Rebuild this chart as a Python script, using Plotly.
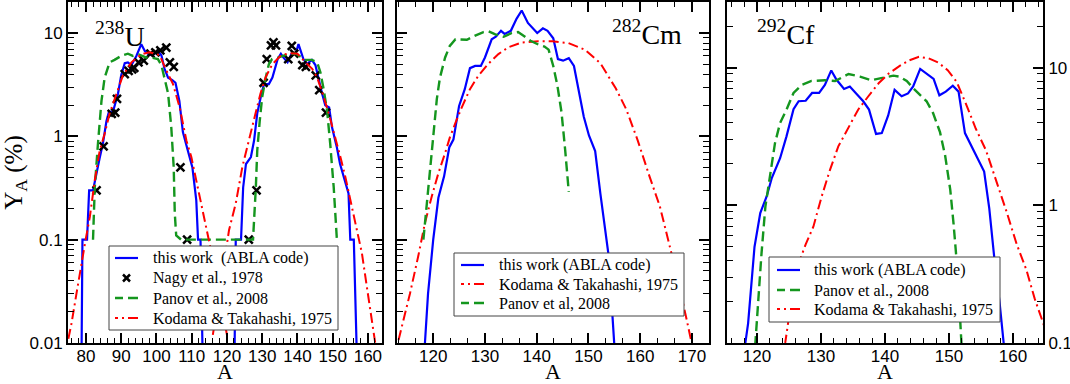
import plotly.graph_objects as go

# ---- 238U panel ----
u_abla_a = [78.7, 79.0, 80.3, 80.9, 82.0, 83.0, 83.9, 84.8, 85.8, 86.5, 87.7, 89.1, 90.0, 91.0, 91.9,
            92.9, 94.3, 95.7, 96.7, 98.0, 99.2, 100.4, 101.4, 102.3, 103.3, 104.5, 105.4, 106.5, 107.5,
            108.8, 110.2, 111.3, 111.8, 112.5, 113.2,
            122.1, 122.5, 124.0, 124.6, 125.4, 126.8, 127.7, 128.6, 129.6, 130.5, 131.9, 132.9, 134.4,
            135.3, 136.0, 137.2, 138.5, 139.5, 140.3, 141.7, 142.7, 144.1, 145.1, 146.0, 147.0, 147.9,
            149.0, 149.8, 151.2, 152.1, 153.6, 154.5, 155.0, 156.0, 157.0]
u_abla_y = [0.005, 0.1, 0.1, 0.3, 0.3, 0.45, 0.62, 0.85, 1.4, 1.72, 1.75, 2.6, 3.9, 5.1, 5.2,
            4.9, 6.0, 7.8, 6.7, 6.1, 6.2, 6.7, 6.1, 4.5, 3.7, 3.5, 3.3, 2.2, 1.1,
            0.75, 0.5, 0.24, 0.1, 0.1, 0.005,
            0.005, 0.1, 0.1, 0.32, 0.54, 0.63, 0.91, 1.67, 2.4, 3.2, 3.2, 3.7, 5.6,
            6.3, 5.8, 5.2, 6.5, 6.3, 7.8, 5.6, 5.0, 5.5, 4.9, 3.5, 2.6, 2.0,
            1.9, 1.23, 0.78, 0.54, 0.35, 0.28, 0.1, 0.1, 0.005]

u_nagy_a = [83.0, 85.0, 87.3, 88.3, 88.8, 91.0, 92.1, 93.1, 93.7, 94.9, 96.4, 98.3, 99.7, 101.1,
            102.8, 103.8, 104.9, 106.8, 108.7,
            126.2, 128.4, 130.4, 131.3, 132.5, 133.2, 133.9, 137.4, 138.4, 139.1, 141.4, 142.4,
            145.2, 146.2, 148.1]
u_nagy_y = [0.3, 0.8, 1.65, 1.7, 2.3, 4.0, 4.3, 4.45, 4.6, 5.2, 5.4, 6.3, 6.5, 6.8,
            7.2, 5.2, 4.7, 0.5, 0.1,
            0.1, 0.3, 3.3, 5.6, 7.6, 8.1, 7.6, 5.6, 7.5, 6.3, 4.9, 4.7,
            3.9, 2.8, 1.7]

u_panov_a = [82.0, 82.5, 83.4, 84.4, 85.3, 86.7, 88.1, 90.0, 91.9, 93.3, 95.0, 97.0, 98.5, 100.4,
             101.4, 102.3, 103.3, 104.2, 104.9, 105.2, 105.6, 107.0,
             127.4, 128.2, 128.6, 129.3, 130.0, 131.0, 131.9, 132.8, 134.7, 137.6, 139.5, 142.3,
             144.1, 145.6, 146.5, 147.4, 148.4, 149.3, 150.3, 151.2]
u_panov_y = [0.1, 0.32, 0.85, 2.2, 3.7, 5.2, 5.5, 6.0, 6.3, 6.0, 6.2, 5.8, 5.8, 5.6,
             4.9, 3.7, 2.6, 1.23, 0.5, 0.18, 0.11, 0.1,
             0.1, 0.32, 0.73, 1.4, 2.4, 3.7, 5.0, 5.6, 5.8, 6.3, 6.3, 5.5,
             5.5, 5.2, 4.2, 2.9, 1.8, 0.85, 0.32, 0.1]

u_kt_a = [75.0, 75.9, 77.3, 78.7, 79.9, 81.1, 82.5, 83.9, 85.3, 86.7, 88.6, 90.5, 92.9, 94.5,
          96.2, 98.1, 99.5, 100.9, 102.8, 104.7, 106.6, 108.5, 109.9, 111.3, 113.2, 114.6, 116.0,
          117.5, 119.0, 120.0, None,
          116.0, 118.0, 119.5, 120.6, 122.5, 124.4, 126.3, 128.1, 129.5, 131.0, 132.9, 135.2,
          137.6, 140.0, 142.3, 144.2, 145.6, 147.0, 148.9, 150.8, 152.2, 153.6, 155.0, 156.4,
          158.3, 159.7, 161.1, 162.5]
u_kt_y = [0.011, 0.0155, 0.03, 0.059, 0.1, 0.166, 0.376, 0.73, 1.06, 1.66, 2.6, 3.9, 5.2, 5.8,
          6.3, 6.5, 6.3, 6.1, 4.35, 3.2, 1.9, 0.91, 0.63, 0.375, 0.19, 0.115, 0.065,
          0.035, 0.018, 0.012, None,
          0.012, 0.035, 0.07, 0.124, 0.224, 0.51, 0.91, 1.66, 2.58, 3.75, 5.0, 6.0,
          6.4, 6.3, 5.2, 4.5, 3.7, 2.7, 1.66, 0.98, 0.63, 0.405, 0.24, 0.15,
          0.074, 0.035, 0.0166, 0.008]

# ---- 282Cm panel ----
cm_abla_a = [118.4, 119.0, 120.0, 121.0, 122.1, 123.1, 123.9, 125.0, 126.1, 127.1, 128.1, 129.2,
             130.0, 131.3, 132.1, 133.1, 133.8, 135.0, 136.1, 137.1, 138.3, 139.6, 140.1, 141.2,
             142.1, 143.2, 144.1, 145.1, 146.2, 147.2, 148.1, 149.1, 150.1, 151.3, 152.3, 153.2,
             153.9, 155.1]
cm_abla_y = [0.01, 0.03, 0.1, 0.254, 0.41, 0.78, 0.93, 1.97, 2.86, 4.57, 4.8, 4.8,
             5.8, 8.7, 9.2, 10.5, 9.8, 10.5, 13.7, 16.5, 12.5, 10.5, 10.0, 11.1,
             10.5, 8.9, 5.6, 5.4, 5.7, 4.8, 2.75, 1.55, 1.02, 0.72, 0.28, 0.135,
             0.07, 0.008]

cm_kt_a = [113.3, 115.5, 117.1, 118.4, 119.7, 121.0, 122.3, 123.2, 124.2, 125.5, 127.1, 128.7,
           130.6, 132.6, 134.5, 137.1, 140.3, 143.0, 146.1, 149.3, 152.3, 155.3, 157.3, 159.5,
           161.8, 163.8, 165.4, 167.0, 169.0, 170.0, 170.6]
cm_kt_y = [0.0107, 0.030, 0.069, 0.145, 0.26, 0.44, 0.69, 0.97, 1.31, 1.9, 2.86, 3.85,
           5.0, 6.25, 7.26, 8.1, 8.3, 8.3, 8.0, 6.9, 5.1, 2.9, 1.83, 0.92,
           0.41, 0.21, 0.1, 0.047, 0.0167, 0.0095, 0.007]

cm_panov_a = [118.1, 118.7, 119.4, 120.0, 120.7, 121.3, 122.3, 123.2, 124.3, 126.5, 128.0, 129.7,
              130.7, 132.0, 133.6, 135.2, 136.4, 137.6, 138.8, 140.4, 141.5, 142.3, 143.2, 144.0,
              144.8, 145.5, 146.2]
cm_panov_y = [0.1, 0.21, 0.44, 1.0, 2.3, 3.7, 5.8, 7.5, 8.7, 8.6, 9.4, 10.2,
              10.4, 9.7, 9.2, 10.0, 10.2, 9.3, 8.4, 7.7, 7.4, 6.9, 4.8, 3.1,
              1.7, 0.74, 0.29]

# ---- 292Cf panel ----
cf_abla_a = [118.1, 118.6, 119.6, 120.5, 121.5, 122.3, 123.6, 124.6, 125.7, 126.5, 127.6, 128.6,
             129.7, 130.6, 131.6, 132.4, 133.6, 134.5, 135.6, 136.6, 137.5, 138.6, 139.5, 140.5,
             141.5, 142.6, 143.6, 144.4, 145.5, 146.5, 147.6, 148.5, 149.5, 150.6, 151.5, 152.5,
             153.5, 154.6, 155.5, 156.3, 157.1, 157.9, 158.6]
cf_abla_y = [0.095, 0.139, 0.5, 0.88, 1.16, 1.58, 2.2, 3.17, 5.0, 5.7, 5.75, 6.55,
             6.55, 7.5, 9.55, 8.2, 7.0, 7.3, 6.4, 5.7, 4.96, 3.3, 3.35, 4.5,
             6.9, 6.2, 6.5, 7.3, 9.8, 9.0, 8.3, 6.3, 6.7, 7.4, 6.7, 3.35,
             2.68, 2.14, 1.76, 0.95, 0.41, 0.2, 0.095]

cf_panov_a = [119.7, 120.2, 120.7, 121.3, 121.8, 122.3, 122.8, 123.6, 124.6, 125.7, 127.0, 128.5,
              130.6, 132.2, 134.3, 136.1, 137.9, 139.4, 141.3, 142.3, 143.4, 144.4, 145.5, 146.5,
              147.5, 148.6, 149.4, 150.2, 150.7, 151.1, 151.6, 152.0]
cf_panov_y = [0.095, 0.21, 0.45, 0.98, 1.37, 1.9, 2.83, 3.96, 4.95, 6.55, 7.5, 8.0,
              8.1, 8.0, 9.0, 8.6, 8.1, 8.4, 8.75, 8.6, 8.0, 7.1, 6.3, 5.7,
              4.7, 3.4, 2.3, 1.3, 0.75, 0.45, 0.2, 0.09]

cf_kt_a = [123.8, 124.4, 125.4, 126.5, 127.6, 128.8, 130.1, 131.4, 132.7, 134.3, 135.8, 137.4,
           139.0, 140.5, 142.3, 143.8, 145.3, 146.8, 148.3, 149.8, 151.2, 152.7, 154.2, 155.8,
           157.3, 159.0, 160.6, 162.1, 163.4, 164.5, 165.5]
cf_kt_y = [0.07, 0.1, 0.21, 0.38, 0.52, 0.70, 1.16, 1.81, 2.68, 3.73, 4.95, 6.2,
           7.7, 9.0, 10.3, 11.3, 12.0, 11.7, 10.9, 9.6, 7.9, 5.4, 3.6, 2.5,
           1.55, 0.9, 0.52, 0.34, 0.21, 0.15, 0.11]

BLUE = "#0000ff"
GREEN = "#14961e"
RED = "#ff0000"
SERIF = "Liberation Serif"
SANS = "Liberation Sans"
DASH = "10px,5px"
DASHDOT = "10px,4px,2px,4px"

STYLE = {
    "abla": dict(color=BLUE, width=2.2, dash="solid"),
    "panov": dict(color=GREEN, width=2.4, dash=DASH),
    "kt": dict(color=RED, width=2.0, dash=DASHDOT),
}

# plot area in page pixels (left, top, width, height)
L, T, W, H = 68, 2, 975, 341


def px(x):
    return (x - L) / W


def py(y):
    return (T + H - y) / H


fig = go.Figure()


def line(a, y, name, kind, xa, ya):
    fig.add_trace(go.Scatter(
        x=a, y=y, mode="lines", name=name, xaxis=xa, yaxis=ya, showlegend=False,
        line=STYLE[kind],
    ))


# panel 1
line(u_abla_a, u_abla_y, "this work  (ABLA code)", "abla", "x", "y")
fig.add_trace(go.Scatter(
    x=u_nagy_a, y=u_nagy_y, mode="markers", name="Nagy et al., 1978", xaxis="x", yaxis="y",
    showlegend=False,
    marker=dict(symbol="x-thin", size=8, color="black", line=dict(width=2.5, color="black")),
))
line(u_panov_a, u_panov_y, "Panov et al., 2008", "panov", "x", "y")
line(u_kt_a, u_kt_y, "Kodama & Takahashi, 1975", "kt", "x", "y")

# panel 2
line(cm_abla_a, cm_abla_y, "this work (ABLA code)", "abla", "x2", "y2")
line(cm_kt_a, cm_kt_y, "Kodama & Takahashi, 1975", "kt", "x2", "y2")
line(cm_panov_a, cm_panov_y, "Panov et al, 2008", "panov", "x2", "y2")

# panel 3
line(cf_abla_a, cf_abla_y, "this work (ABLA code)", "abla", "x3", "y3")
line(cf_panov_a, cf_panov_y, "Panov et al., 2008", "panov", "x3", "y3")
line(cf_kt_a, cf_kt_y, "Kodama & Takahashi, 1975", "kt", "x3", "y3")


def legend_box(box, rows, sample, text_x):
    # boxed legend drawn in page pixels, like the grace legends of the original
    x0, y0, x1, y1 = box
    fig.add_shape(type="rect", xref="paper", yref="paper",
                  x0=px(x0), x1=px(x1), y0=py(y0), y1=py(y1),
                  fillcolor="white", line=dict(color="#444", width=1), layer="above")
    s0, s1 = sample
    for yc, kind, label in rows:
        if kind == "nagy":
            cx = (s0 + s1) / 2
            for d in (1, -1):
                fig.add_shape(type="line", xref="paper", yref="paper",
                              x0=px(cx - 3.5), x1=px(cx + 3.5),
                              y0=py(yc - 3.5 * d), y1=py(yc + 3.5 * d),
                              line=dict(color="black", width=2.5), layer="above")
        else:
            fig.add_shape(type="line", xref="paper", yref="paper",
                          x0=px(s1), x1=px(s0), y0=py(yc), y1=py(yc),
                          line=STYLE[kind], layer="above")
        fig.add_annotation(text=label, xref="paper", yref="paper", x=px(text_x), y=py(yc),
                           xanchor="left", yanchor="middle", showarrow=False,
                           font=dict(family=SERIF, size=16, color="black"))


legend_box((109, 246, 338, 330),
           [(258, "abla", "this work  (ABLA code)"),
            (278, "nagy", "Nagy et al., 1978"),
            (298, "panov", "Panov et al., 2008"),
            (318, "kt", "Kodama & Takahashi, 1975")],
           (115, 138), 151)
legend_box((454, 253, 684, 316),
           [(265, "abla", "this work (ABLA code)"),
            (284, "kt", "Kodama & Takahashi, 1975"),
            (303, "panov", "Panov et al, 2008")],
           (461, 484), 497)
legend_box((769, 257, 1000, 322),
           [(270, "abla", "this work (ABLA code)"),
            (290, "panov", "Panov et al., 2008"),
            (309, "kt", "Kodama & Takahashi, 1975")],
           (777, 800), 812)


def ax(**kw):
    d = dict(
        showline=True, linecolor="black", linewidth=2, mirror="allticks",
        ticks="inside", ticklen=10, tickwidth=1.5, tickcolor="black",
        showgrid=False, zeroline=False, automargin=False,
        tickfont=dict(family=SANS, size=17, color="black"),
    )
    d.update(kw)
    return d


def xax(domain, rng, minor_dt, anchor):
    return ax(
        domain=domain, range=rng, anchor=anchor, dtick=10, tick0=0, ticklabelstandoff=-3,
        minor=dict(ticks="inside", ticklen=5, tickwidth=1.2, tickcolor="black",
                   dtick=minor_dt, tick0=0, showgrid=False),
        title=dict(text="A", font=dict(family=SERIF, size=22, color="black"), standoff=4),
    )


def yax(rng, anchor, **kw):
    return ax(
        type="log", range=rng, anchor=anchor, dtick=1,
        minor=dict(ticks="inside", ticklen=6, tickwidth=1.2, tickcolor="black",
                   dtick="D1", showgrid=False),
        **kw,
    )


fig.update_layout(
    width=1070, height=384,
    margin=dict(l=L, r=1070 - L - W, t=T, b=384 - T - H),
    font=dict(family=SERIF, color="black"),
    paper_bgcolor="white", plot_bgcolor="white",
    showlegend=False,
    xaxis=xax([0, px(382)], [74.9, 164.0], 2, "y"),
    xaxis2=xax([px(397), px(709)], [113.0, 173.3], 10 / 3, "y2"),
    xaxis3=xax([px(727), 1.0], [115.3, 164.7], 2, "y3"),
    yaxis=yax([-2, 1.3], "x",
              tickvals=[0.01, 0.1, 1, 10], ticktext=["0.01", "0.1", "1", "10"],
              title=dict(text="Y<sub>A</sub> (%)", font=dict(family=SERIF, size=25, color="black"),
                         standoff=2)),
    yaxis2=yax([-2, 1.3], "x2", showticklabels=False),
    yaxis3=yax([-1, 1.477], "x3", side="right",
               tickvals=[0.1, 1, 10], ticktext=["0.1", "1", "10"]),
)

for text, xp, yp, xanchor in [("<sup>238</sup>U", px(93), py(34), "left"),
                              ("<sup>282</sup>Cm", px(684), py(32), "right"),
                              ("<sup>292</sup>Cf", px(755), py(32.5), "left")]:
    fig.add_annotation(
        text=text, xref="paper", yref="paper", x=xp, y=yp,
        xanchor=xanchor, yanchor="middle", showarrow=False,
        font=dict(family=SERIF, size=28, color="black"),
    )

fig.write_html("out.html", config={"displayModeBar": False},
               post_script="document.body.style.margin='0';")
